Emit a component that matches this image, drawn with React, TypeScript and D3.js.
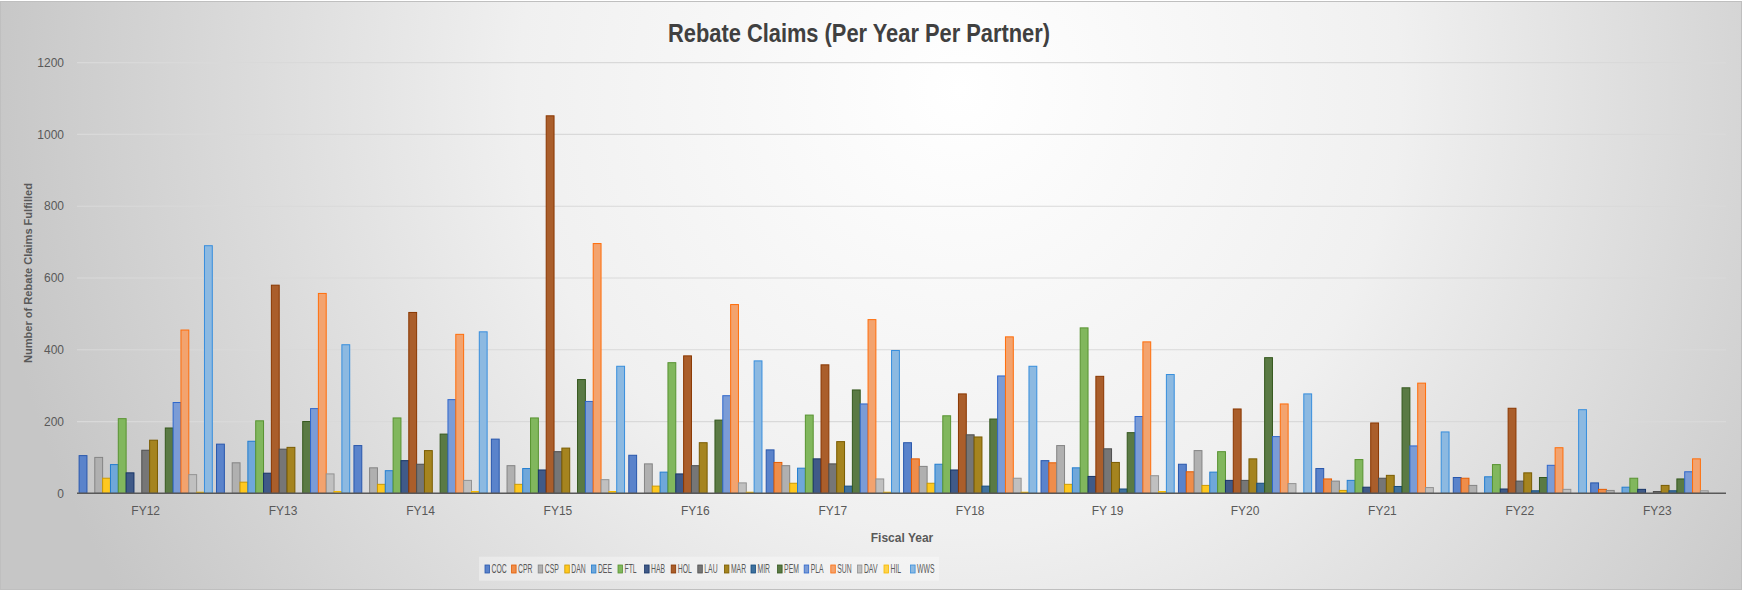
import * as d3 from "d3";

// fiscal years on the x axis
const years = ["FY12", "FY13", "FY14", "FY15", "FY16", "FY17", "FY18", "FY 19", "FY20", "FY21", "FY22", "FY23"];

// partner series, in legend order
const partners = ["COC", "CPR", "CSP", "DAN", "DEE", "FTL", "HAB", "HOL", "LAU", "MAR", "MIR", "PEM", "PLA", "SUN", "DAV", "HIL", "WWS"];

// claims per partner, FY12 .. FY23
const coc = [105, 137, 133, 151, 106, 121, 141, 91, 81, 69, 44, 29];
const cpr = [0, 0, 0, 0, 0, 86, 96, 85, 60, 40, 42, 11];
const csp = [100, 85, 71, 77, 82, 77, 75, 133, 119, 34, 22, 8];
const dan = [42, 31, 25, 25, 20, 28, 28, 25, 22, 8, 0, 0];
const dee = [80, 145, 63, 69, 59, 70, 81, 71, 59, 36, 46, 17];
const ftl = [208, 202, 210, 210, 364, 218, 216, 461, 116, 94, 80, 42];
const hab = [57, 56, 91, 65, 54, 96, 65, 47, 36, 17, 12, 11];
const hol = [0, 580, 504, 1052, 383, 358, 277, 326, 235, 196, 237, 0];
const lau = [120, 123, 81, 116, 77, 82, 163, 124, 36, 42, 34, 5];
const mar = [148, 128, 119, 126, 141, 144, 157, 86, 96, 50, 57, 22];
const mir = [0, 0, 0, 0, 0, 20, 20, 12, 28, 19, 7, 7];
const pem = [182, 200, 165, 317, 204, 288, 207, 169, 378, 294, 44, 40];
const pla = [253, 236, 261, 256, 272, 249, 327, 214, 158, 132, 78, 60];
const sun = [455, 557, 443, 696, 526, 484, 436, 422, 249, 307, 127, 96];
const dav = [52, 54, 36, 38, 29, 40, 42, 49, 27, 16, 11, 7];
const hil = [3, 5, 5, 5, 3, 3, 3, 5, 0, 0, 0, 0];
const wws = [690, 414, 450, 354, 369, 398, 354, 331, 277, 171, 233, 0];

const claims = [coc, cpr, csp, dan, dee, ftl, hab, hol, lau, mar, mir, pem, pla, sun, dav, hil, wws];

// office theme colours
const palette = [
  "#4472C4", "#ED7D31", "#A5A5A5", "#FFC000", "#5B9BD5", "#70AD47",
  "#264478", "#9E480E", "#636363", "#997300", "#255E91", "#43682B",
  "#698ED0", "#F1975A", "#B7B7B7", "#FFCD33", "#7CAFDD",
];

const W = 1742;
const H = 591;
const font = "'Liberation Sans', sans-serif";

function edge(c: string) {
  const h = d3.hsl(c);
  h.s = Math.min(1, h.s * 1.2);
  h.l = h.l * 0.8;
  return h.formatHex();
}

export default function App() {
  const x0 = d3.scaleBand().domain(years).range([77, 1726]);
  const x1 = d3.scaleBand().domain(partners).range([0, x0.bandwidth()]).paddingOuter(0.27);
  const y = d3.scaleLinear().domain([0, 1200]).range([493.3, 62.7]);

  return (
    <svg width={W} height={H} style={{ display: "block" }}>
      <style>{`body{margin:0}`}</style>
      <defs>
        <radialGradient id="bg" gradientUnits="userSpaceOnUse" cx={960} cy={90} r={980}>
          <stop offset="0" stopColor="#ffffff" />
          <stop offset="0.45" stopColor="#f0f0f0" />
          <stop offset="1" stopColor="#c6c6c6" />
        </radialGradient>
      </defs>
      <rect x={0.5} y={1.5} width={W - 1} height={H - 3} fill="url(#bg)" stroke="#bfbfbf" />

      <text x={859} y={41.7} textAnchor="middle" fontFamily={font} fontWeight="bold" fontSize={26}
        fill="#404040" textLength={382} lengthAdjust="spacingAndGlyphs">
        Rebate Claims (Per Year Per Partner)
      </text>

      {/* gridlines and y labels */}
      {y.ticks(6).map((t) => (
        <g key={t}>
          {t > 0 && <line x1={77} x2={1726} y1={y(t)} y2={y(t)} stroke="#d9d9d9" strokeWidth={1.2} />}
          <text x={64} y={y(t)} dy="0.35em" textAnchor="end" fontFamily={font} fontSize={12} fill="#595959">
            {t}
          </text>
        </g>
      ))}

      {/* bars */}
      {years.map((yr, j) => (
        <g key={yr} transform={`translate(${x0(yr)},0)`}>
          {partners.map((p, i) =>
            claims[i][j] > 0 ? (
              <rect key={p} x={x1(p)} y={y(claims[i][j])} width={x1.bandwidth()}
                height={y(0) - y(claims[i][j])}
                fill={d3.interpolateRgb(palette[i], "#ffffff")(0.12)} stroke={edge(palette[i])} strokeWidth={1} />
            ) : null
          )}
        </g>
      ))}

      <line x1={77} x2={1726} y1={y(0)} y2={y(0)} stroke="#595959" strokeWidth={1.5} />

      {years.map((yr) => (
        <text key={yr} x={x0(yr)! + x0.bandwidth() / 2} y={515} textAnchor="middle" fontFamily={font}
          fontSize={12} fill="#595959">
          {yr}
        </text>
      ))}

      <text x={902} y={542} textAnchor="middle" fontFamily={font} fontWeight="bold" fontSize={12} fill="#595959">
        Fiscal Year
      </text>
      <text transform="translate(32,273) rotate(-90)" textAnchor="middle" fontFamily={font} fontWeight="bold"
        fontSize={11} fill="#595959" textLength={180} lengthAdjust="spacingAndGlyphs">
        Number of Rebate Claims Fulfilled
      </text>

      {/* legend */}
      <rect x={479} y={556.7} width={460} height={24} fill="#ffffff" fillOpacity={0.35} />
      {partners.map((p, i) => (
        <g key={p} transform={`translate(${485 + i * 26.6},0)`}>
          <rect x={0} y={565} width={4.5} height={8} fill={d3.interpolateRgb(palette[i], "#ffffff")(0.12)}
            stroke={edge(palette[i])} strokeWidth={0.8} />
          <text transform="translate(6.5,573) scale(0.57,1)" fontFamily={font} fontSize={12} fill="#595959">{p}</text>
        </g>
      ))}
    </svg>
  );
}
